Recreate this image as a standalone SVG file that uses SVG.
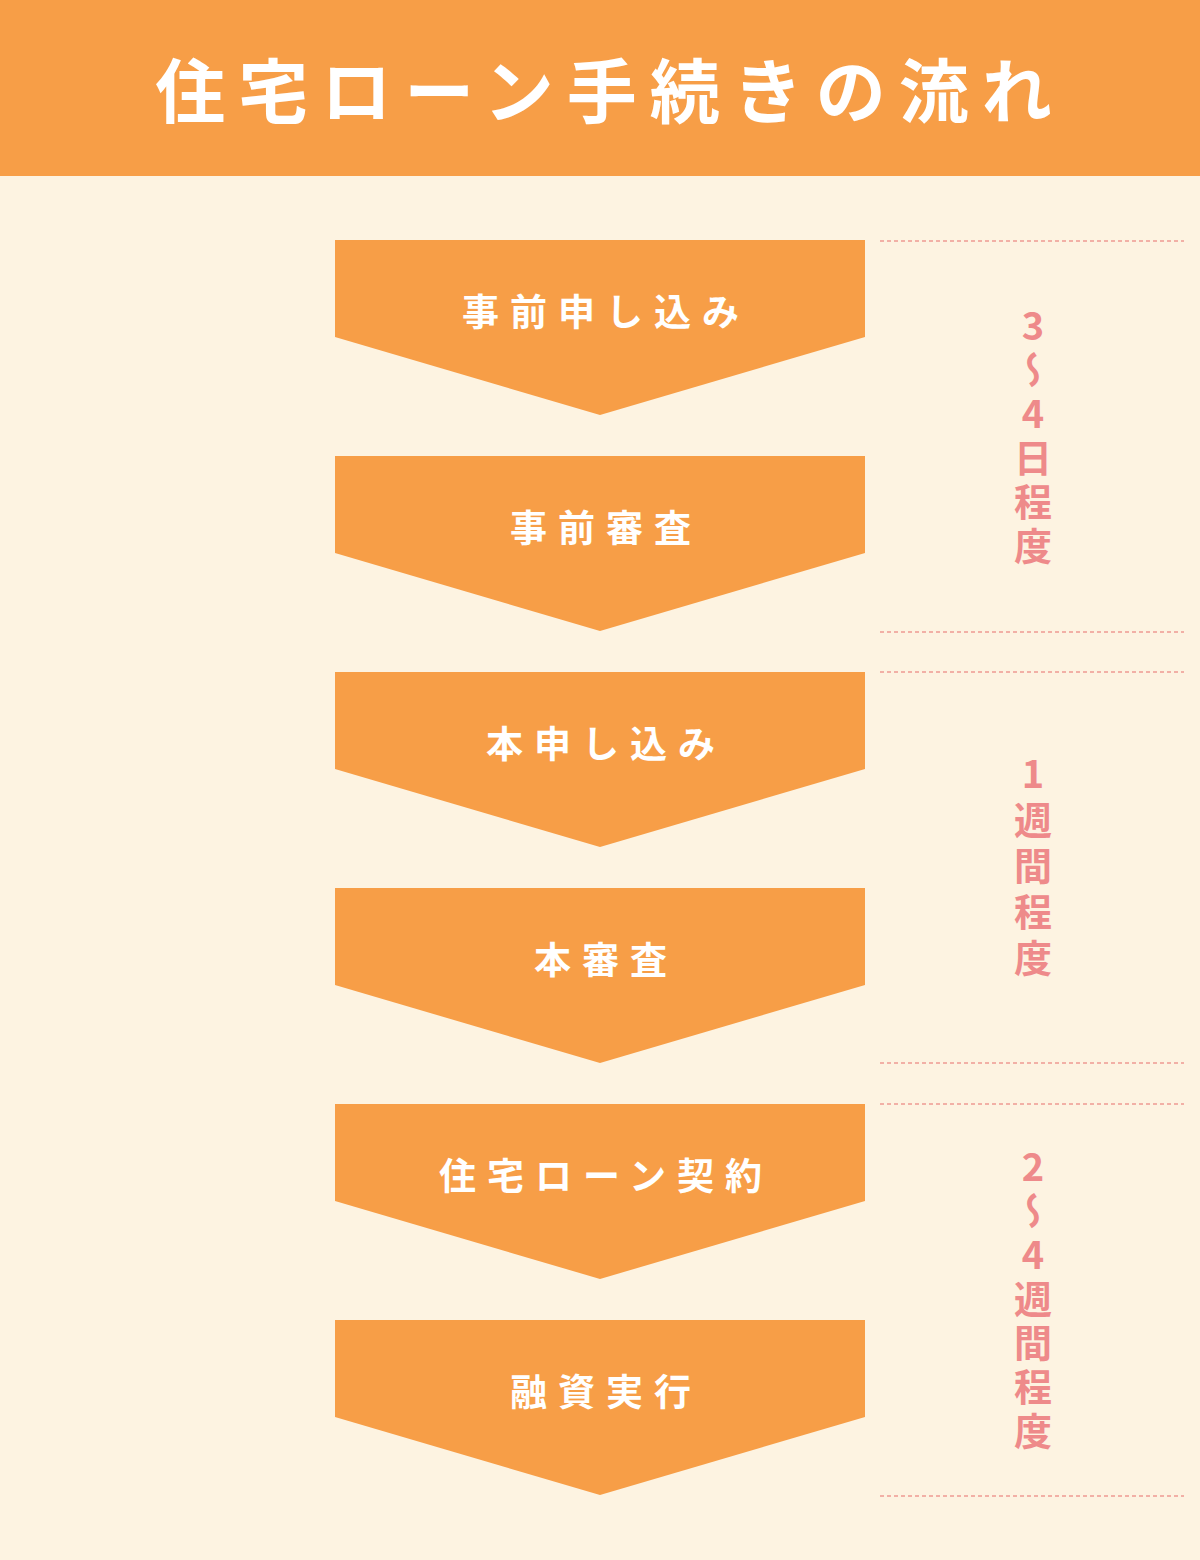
<svg xmlns="http://www.w3.org/2000/svg" width="1200" height="1560" viewBox="0 0 1200 1560">
<defs>
<style>
.bg{fill:#FDF3E1}
.hdr{fill:#F79E47}
.chev{fill:#F79E47}
.title{font-family:"Noto Sans CJK JP","Noto Sans",sans-serif;font-weight:700;font-size:70px;fill:#FFFFFF;letter-spacing:13px;text-anchor:middle}
.lbl{font-family:"Noto Sans CJK JP","Noto Sans",sans-serif;font-weight:700;font-size:37px;fill:#FFFFFF;letter-spacing:11px;text-anchor:middle}
.dur{font-family:"Noto Sans CJK JP","Noto Sans",sans-serif;font-weight:700;font-size:38px;fill:#EE8A8A;writing-mode:vertical-rl;text-orientation:upright;letter-spacing:6px}
.dash{stroke:#EE9A92;stroke-width:1.5;stroke-dasharray:4 3;fill:none}
</style>
</defs>
<rect class="bg" x="0" y="0" width="1200" height="1560"/>
<g id="header">
<rect class="hdr" x="0" y="0" width="1200" height="176"/>
<text class="title" x="610" y="118">住宅ローン手続きの流れ</text>
</g>
<g id="step1">
<polygon class="chev" points="335,240 865,240 865,337 600,415 335,337"/>
<text class="lbl" x="606" y="326">事前申し込み</text>
</g>
<g id="step2">
<polygon class="chev" points="335,456 865,456 865,553 600,631 335,553"/>
<text class="lbl" x="606" y="542">事前審査</text>
</g>
<g id="step3">
<polygon class="chev" points="335,672 865,672 865,769 600,847 335,769"/>
<text class="lbl" x="606" y="758">本申し込み</text>
</g>
<g id="step4">
<polygon class="chev" points="335,888 865,888 865,985 600,1063 335,985"/>
<text class="lbl" x="606" y="974">本審査</text>
</g>
<g id="step5">
<polygon class="chev" points="335,1104 865,1104 865,1201 600,1279 335,1201"/>
<text class="lbl" x="606" y="1190">住宅ローン契約</text>
</g>
<g id="step6">
<polygon class="chev" points="335,1320 865,1320 865,1417 600,1495 335,1417"/>
<text class="lbl" x="606" y="1406">融資実行</text>
</g>
<g id="connectors">
<line class="dash" x1="880" y1="241" x2="1184" y2="241"/>
<line class="dash" x1="880" y1="632" x2="1184" y2="632"/>
<line class="dash" x1="880" y1="672" x2="1184" y2="672"/>
<line class="dash" x1="880" y1="1063" x2="1184" y2="1063"/>
<line class="dash" x1="880" y1="1104" x2="1184" y2="1104"/>
<line class="dash" x1="880" y1="1496" x2="1184" y2="1496"/>
</g>
<g id="duration1">
<text class="dur" x="1033" y="307">3～4日程度</text>
</g>
<g id="duration2">
<text class="dur" x="1033" y="755" style="letter-spacing:8px">1週間程度</text>
</g>
<g id="duration3">
<text class="dur" x="1033" y="1148">2～4週間程度</text>
</g>
</svg>
